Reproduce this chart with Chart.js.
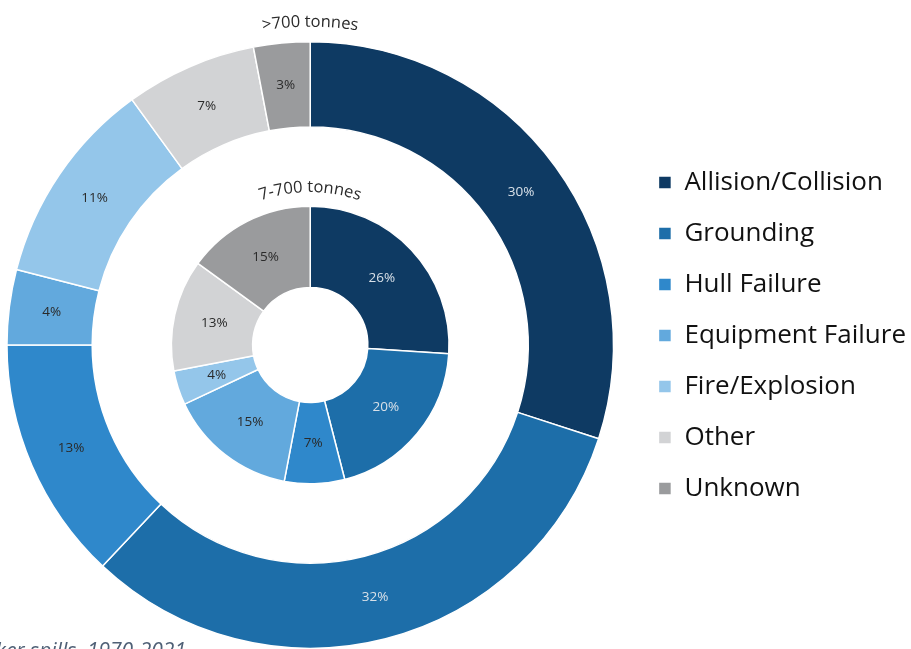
<!DOCTYPE html>
<html>
<head>
<meta charset="utf-8">
<script src="https://cdn.jsdelivr.net/npm/chart.js@4.4.1/dist/chart.umd.min.js"></script>
<style>
    html, body { margin: 0; padding: 0; background: #fff; overflow: hidden; }
    #frame { width: 911px; height: 649px; position: relative; overflow: hidden; }
    #wrap { position: absolute; left: -13px; top: 0; width: 929px; height: 649px; }
</style>
</head>
<body>
<div id="frame"><div id="wrap"><canvas id="spillChart"></canvas></div></div>
<script>
const categories = ['Allision/Collision', 'Grounding', 'Hull Failure', 'Equipment Failure', 'Fire/Explosion', 'Other', 'Unknown'];
const largeSpills = [30, 32, 13, 4, 11, 7, 3];      // >700 tonnes (outer ring)
const mediumSpills = [26, 20, 7, 15, 4, 13, 15];    // 7-700 tonnes (inner ring)
const ringTitles = ['>700 tonnes', '7-700 tonnes'];
const caption = 'Figure 15: Causes of tanker spills, 1970-2021';

const colors = ['#0e3a63', '#1d6ea9', '#2f88cb', '#62a9dd', '#94c6ea', '#d2d3d5', '#9a9b9d'];
const labelColors = ['#d8e0e8', '#d8e0e8', '#2a2a2a', '#2a2a2a', '#2a2a2a', '#2a2a2a', '#2a2a2a'];

Chart.defaults.font.family = "'Open Sans', sans-serif";

// draw text bent along a circle, centred at 12 o'clock
function arcText(ctx, text, cx, cy, r) {
    const total = ctx.measureText(text).width;
    let a = -Math.PI / 2 - total / r / 2;
    for (const ch of text) {
        const w = ctx.measureText(ch).width;
        const mid = a + w / 2 / r;
        ctx.save();
        ctx.translate(cx + r * Math.cos(mid), cy + r * Math.sin(mid));
        ctx.rotate(mid + Math.PI / 2);
        ctx.fillText(ch, 0, 0);
        ctx.restore();
        a += w / r;
    }
}

const labelPlugin = {
    id: 'sliceLabels',
    afterDatasetsDraw(chart) {
        const ctx = chart.ctx;
        ctx.save();
        ctx.textAlign = 'center';
        ctx.textBaseline = 'middle';
        ctx.font = "13.5px 'Open Sans'";
        [0, 2].forEach(function (di) {
            const meta = chart.getDatasetMeta(di);
            meta.data.forEach(function (arc, i) {
                const p = arc.tooltipPosition();
                ctx.fillStyle = labelColors[i];
                ctx.fillText(chart.data.datasets[di].data[i] + '%', p.x, p.y);
            });
        });

        // ring titles
        const outer = chart.getDatasetMeta(0).data[0];
        const inner = chart.getDatasetMeta(2).data[0];
        ctx.fillStyle = '#2b2b2b';
        ctx.font = "16.5px 'Open Sans'";
        ctx.textBaseline = 'alphabetic';
        arcText(ctx, ringTitles[0], outer.x, outer.y, outer.outerRadius + 15);
        arcText(ctx, ringTitles[1], inner.x, inner.y, inner.outerRadius + 14);

        // caption, cut by the bottom edge like the reference
        ctx.font = "italic 21px 'Open Sans'";
        ctx.fillStyle = '#4f6076';
        ctx.textAlign = 'right';
        ctx.fillText(caption, 199, 658);
        ctx.restore();
    }
};

const ctx = document.getElementById('spillChart').getContext('2d');
const spillChart = new Chart(ctx, {
    type: 'doughnut',
    data: {
        labels: categories,
        datasets: [{
            label: ringTitles[0],
            data: largeSpills,
            backgroundColor: colors,
            borderColor: '#ffffff',
            borderWidth: 1.5,
            weight: 85
        }, {
            label: 'gap',
            data: [1],
            backgroundColor: 'rgba(0,0,0,0)',
            hoverBackgroundColor: 'rgba(0,0,0,0)',
            borderWidth: 0,
            weight: 79
        }, {
            label: ringTitles[1],
            data: mediumSpills,
            backgroundColor: colors,
            borderColor: '#ffffff',
            borderWidth: 1.5,
            weight: 81
        }]
    },
    options: {
        responsive: true,
        maintainAspectRatio: false,
        animation: false,
        cutout: '19%',
        layout: {
            padding: { top: 41, bottom: 0, left: 0, right: 0 }
        },
        plugins: {
            legend: {
                position: 'right',
                align: 'start',
                title: {
                    display: true,
                    text: ' ',
                    padding: { top: 89, bottom: 0 },
                    font: { size: 12 }
                },
                labels: {
                    boxWidth: 13,
                    boxHeight: 13,
                    padding: 25,
                    color: '#111111',
                    font: { size: 26 }
                }
            },
            tooltip: {
                filter: function (item) { return item.datasetIndex !== 1; }
            }
        }
    },
    plugins: [labelPlugin]
});
</script>
</body>
</html>
